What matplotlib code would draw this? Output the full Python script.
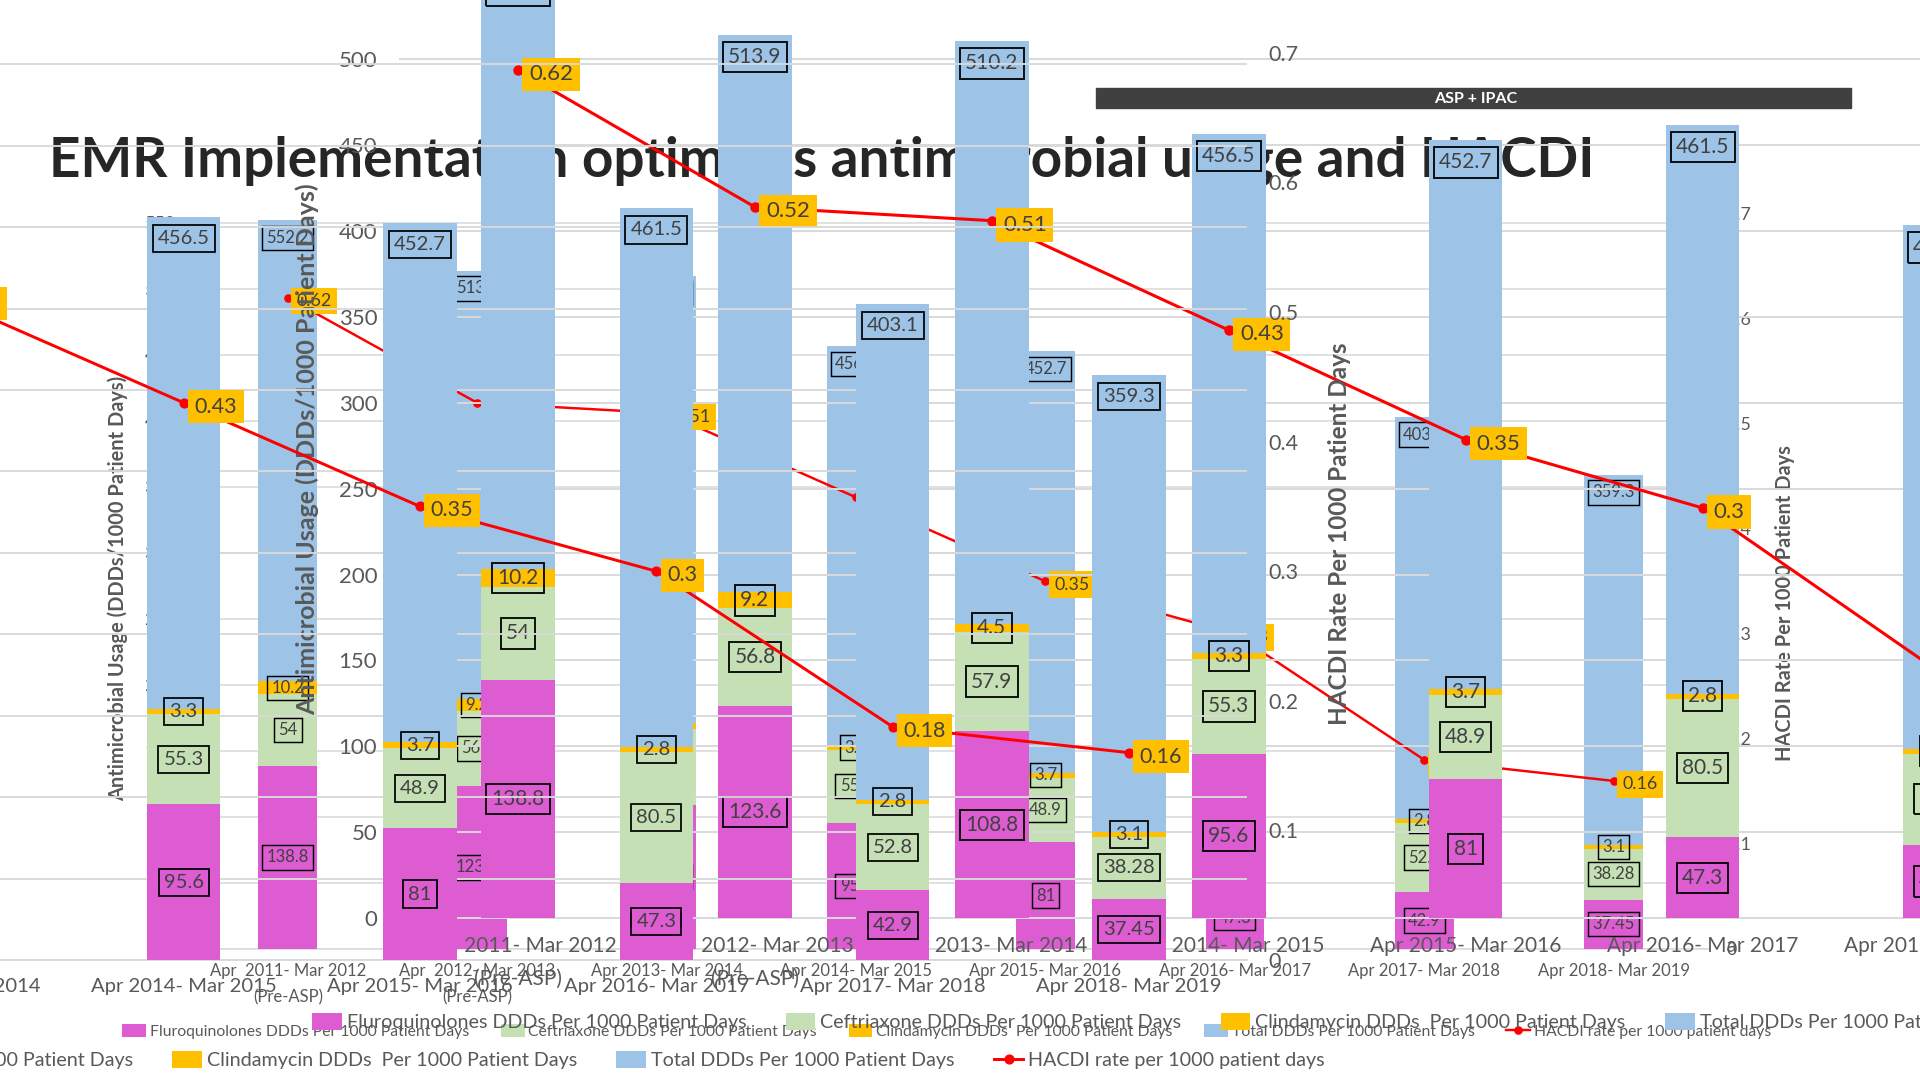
import numpy as np
import matplotlib
matplotlib.use("Agg")
import matplotlib.pyplot as plt
from matplotlib.patches import Rectangle

plt.rcParams['font.family'] = ['Lato', 'DejaVu Sans']

periods = ["Apr  2011- Mar 2012\n(Pre-ASP)", "Apr  2012- Mar 2013\n(Pre-ASP)",
           "Apr 2013- Mar 2014", "Apr 2014- Mar 2015", "Apr 2015- Mar 2016",
           "Apr 2016- Mar 2017", "Apr 2017- Mar 2018", "Apr 2018- Mar 2019"]
fq = [138.8, 123.6, 108.8, 95.6, 81, 47.3, 42.9, 37.45]
ceft = [54, 56.8, 57.9, 55.3, 48.9, 80.5, 52.8, 38.28]
clinda = [10.2, 9.2, 4.5, 3.3, 3.7, 2.8, 2.8, 3.1]
total = [552.2, 513.9, 510.2, 456.5, 452.7, 461.5, 403.1, 359.3]
hacdi = [0.62, 0.52, 0.51, 0.43, 0.35, 0.3, 0.18, 0.16]

series_names = ["Fluroquinolones DDDs Per 1000 Patient Days",
                "Ceftriaxone DDDs Per 1000 Patient Days",
                "Clindamycin DDDs  Per 1000 Patient Days",
                "Total DDDs Per 1000 Patient Days",
                "HACDI rate per 1000 patient days"]

TITLE = "EMR Implementation optimizes antimicrobial usage and HACDI"

FQ_C, CE_C, CL_C, TOT_C = '#DD5CD2', '#C5E0B4', '#FFC000', '#9DC3E6'
GRAY = '#595959'
TXT = '#404040'
GRID = '#D9D9D9'

LEFT_MAX = 557
RIGHT_MAX = 0.7

# layout is measured on a 1568x882 copy of the reference
W, H = 1568, 882


def fx(x):
    return x / W


def fy(y):
    return 1 - y / H


fig = plt.figure(figsize=(19.2, 10.8), dpi=100)


def chart(cx0, dx, y0, ppu, s, z, leg_x, leg_y, leg_loc, leg_s):
    left = cx0 - 0.5 * dx
    right = cx0 + 7.5 * dx
    top = y0 - LEFT_MAX * ppu
    ax = fig.add_axes([fx(left), fy(y0), (right - left) / W, (y0 - top) / H])
    ax2 = ax.twinx()
    ax.set_zorder(z)
    ax2.set_zorder(z + 0.5)
    ax.patch.set_visible(False)

    x = np.arange(len(periods))
    w = 0.31
    base2 = np.add(fq, ceft)
    b_tot = ax.bar(x, total, w, color=TOT_C, zorder=2)
    b_fq = ax.bar(x, fq, w, color=FQ_C, zorder=3)
    b_ce = ax.bar(x, ceft, w, bottom=fq, color=CE_C, zorder=3)
    b_cl = ax.bar(x, clinda, w, bottom=base2, color=CL_C, zorder=3)

    ax.set_xlim(-0.5, 7.5)
    ax.set_ylim(0, LEFT_MAX)
    ax.set_yticks(np.arange(0, 551, 50))
    ax.set_xticks(x, periods)
    for lab in ax.get_xticklabels():
        lab.set_linespacing(1.75)
    ax.yaxis.grid(True, color=GRID, lw=1.4 * s)
    ax.set_axisbelow(True)
    for sp in ['top', 'left', 'right']:
        ax.spines[sp].set_visible(False)
    ax.spines['bottom'].set_color(GRID)
    ax.spines['bottom'].set_linewidth(1.4 * s)
    ax.tick_params(axis='x', length=0, pad=13 * s, labelsize=15 * s, labelcolor=GRAY)
    ax.tick_params(axis='y', length=0, pad=16 * s, labelsize=16 * s, labelcolor=GRAY)

    box = dict(boxstyle='square,pad=0.25', fc='none', ec='black', lw=1.3 * s)
    for i in x:
        ax.annotate(f'{fq[i]:g}', (i, fq[i] / 2), ha='center', va='center',
                    fontsize=15 * s, color=TXT, bbox=box, zorder=5)
        ax.annotate(f'{ceft[i]:g}', (i, fq[i] + ceft[i] / 2), ha='center', va='center',
                    fontsize=15 * s, color=TXT, bbox=box, zorder=5)
        ax.annotate(f'{clinda[i]:g}', (i, base2[i] + clinda[i] / 2), ha='center', va='center',
                    fontsize=15 * s, color=TXT, bbox=box, zorder=5)
        ax.annotate(f'{total[i]:g}', (i, total[i]), xytext=(0, -16 * s),
                    textcoords='offset points', ha='center', va='center',
                    fontsize=15 * s, color=TXT, bbox=box, zorder=5, annotation_clip=False)

    line, = ax2.plot(x, hacdi, color='#FF0000', lw=2.2 * s, marker='o', ms=6.5 * s)
    ax2.set_ylim(0, RIGHT_MAX)
    rt = np.round(np.arange(0, 0.71, 0.1), 1)
    ax2.set_yticks(rt, ['0'] + [f'{v:.1f}' for v in rt[1:]])
    for sp in ax2.spines.values():
        sp.set_visible(False)
    ax2.tick_params(axis='y', length=0, pad=16 * s, labelsize=16 * s, labelcolor=GRAY)
    for i in x:
        ax2.annotate(f'{hacdi[i]:g}', (i, hacdi[i]), xytext=(8 * s, -3 * s),
                     textcoords='offset points', ha='left', va='center',
                     fontsize=16 * s, color=TXT,
                     bbox=dict(boxstyle='square,pad=0.3', fc=CL_C, ec='none'))

    ax.set_ylabel("Antimicrobial Usage (DDDs/1000 Patient Days)", fontsize=18 * s,
                  fontweight='bold', color=GRAY)
    ax.yaxis.set_label_coords(-(66 * s) / (right - left), 0.49)
    ax2.set_ylabel("HACDI Rate Per 1000 Patient Days", fontsize=18 * s,
                   fontweight='bold', color=GRAY)
    ax2.yaxis.set_label_coords(1 + (68 * s) / (right - left), 0.47)

    ax2.legend([b_fq, b_ce, b_cl, b_tot, line], series_names, loc=leg_loc,
               bbox_to_anchor=(fx(leg_x), fy(leg_y)), bbox_transform=fig.transFigure,
               ncol=5, frameon=False, fontsize=14.2 * leg_s, handlelength=1.5,
               handleheight=0.9, handletextpad=0.25, columnspacing=2.0,
               borderpad=0, borderaxespad=0, labelcolor=GRAY)
    return ax, ax2


# three overlapping copies of the same chart
chart(235, 154.7, 775, 1.078, 0.8, 0, 100, 842, 'center left', 0.8)
chart(423, 193.5, 750, 1.404, 1.0, 2, 255, 835, 'center left', 1.0)
chart(150 - 3 * 193, 193, 784, 1.33, 0.97, 4, 1082, 866, 'center right', 1.0)

fig.text(fx(671), fy(131), TITLE, ha='center', va='center', fontsize=39.5,
         fontweight='bold', color='#262626', zorder=1)

fig.add_artist(Rectangle((fx(895), fy(88)), (1512 - 895) / W, 16 / H,
                         transform=fig.transFigure, color='#404040', zorder=6))
fig.text(fx(1205), fy(80.5), "ASP + IPAC", ha='center', va='center', fontsize=11.5,
         fontweight='bold', color='white', zorder=7)

fig.savefig("out.png", dpi=100)
